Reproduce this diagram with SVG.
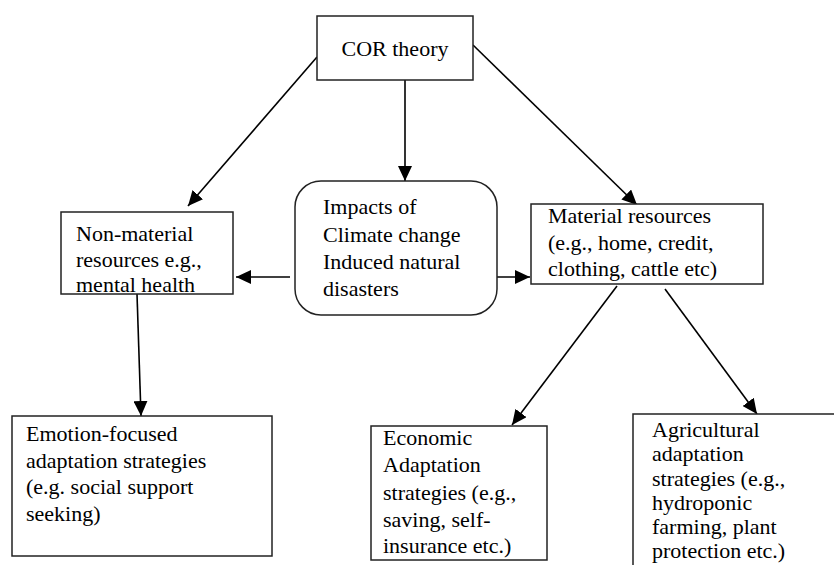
<svg xmlns="http://www.w3.org/2000/svg" width="834" height="565" viewBox="0 0 834 565">
<style>
.box{fill:#fff;stroke:#222;stroke-width:1.5}
text{font-size:22px;fill:#000}
.c line{stroke:#000;stroke-width:1.6;marker-end:url(#ah)}
</style>
<defs>
<marker id="ah" markerUnits="userSpaceOnUse" markerWidth="16" markerHeight="14" refX="15" refY="7" orient="auto">
<path d="M0,0 L15,7 L0,14 Z" fill="#000"/>
</marker>
</defs>
<rect width="834" height="565" fill="#fff"/>
<g class="c" id="connectors">
<line x1="405" y1="80" x2="405" y2="181"/>
<line x1="317" y1="57" x2="188" y2="206"/>
<line x1="473" y1="45" x2="637" y2="205"/>
<line x1="290" y1="277" x2="236" y2="277"/>
<line x1="497" y1="277" x2="530" y2="277"/>
<line x1="137" y1="294" x2="141" y2="416"/>
<line x1="617" y1="286" x2="512" y2="425"/>
<line x1="665" y1="289" x2="757" y2="414"/>
</g>
<g id="cor" style="font-family:'Times New Roman'" font-family="Times New Roman">
<rect class="box" x="317" y="16" width="156" height="64"/>
<text x="395" y="56" text-anchor="middle">COR theory</text>
</g>
<g id="impacts" style="font-family:'Times New Roman'" font-family="Times New Roman">
<rect class="box" x="295" y="181" width="202" height="134" rx="26" ry="26"/>
<text x="323" y="214">Impacts of</text>
<text x="323" y="242">Climate change</text>
<text x="323" y="269">Induced natural</text>
<text x="323" y="296">disasters</text>
</g>
<g id="nonmaterial" style="font-family:'Times New Roman'" font-family="Times New Roman">
<rect class="box" x="61" y="212" width="172" height="82"/>
<text x="76" y="241">Non-material</text>
<text x="76" y="267">resources e.g.,</text>
<text x="76" y="292">mental health</text>
</g>
<g id="material" style="font-family:'Times New Roman'" font-family="Times New Roman">
<rect class="box" x="531" y="204" width="232" height="80"/>
<text x="548" y="223">Material resources</text>
<text x="548" y="250">(e.g., home, credit,</text>
<text x="548" y="276">clothing, cattle etc)</text>
</g>
<g id="emotion" style="font-family:'Times New Roman'" font-family="Times New Roman">
<rect class="box" x="12" y="416" width="260" height="140"/>
<text x="26" y="441">Emotion-focused</text>
<text x="26" y="468">adaptation strategies</text>
<text x="26" y="494">(e.g. social support</text>
<text x="26" y="521">seeking)</text>
</g>
<g id="economic" style="font-family:'Times New Roman'" font-family="Times New Roman">
<rect class="box" x="371" y="426" width="176" height="134"/>
<text x="383" y="445">Economic</text>
<text x="383" y="472">Adaptation</text>
<text x="383" y="500">strategies (e.g.,</text>
<text x="383" y="527">saving, self-</text>
<text x="383" y="553">insurance etc.)</text>
</g>
<g id="agricultural" style="font-family:'Times New Roman'" font-family="Times New Roman">
<rect class="box" x="633" y="414" width="220" height="170"/>
<text x="652" y="437">Agricultural</text>
<text x="652" y="461">adaptation</text>
<text x="652" y="486">strategies (e.g.,</text>
<text x="652" y="510">hydroponic</text>
<text x="652" y="534">farming, plant</text>
<text x="652" y="558">protection etc.)</text>
</g>
</svg>
